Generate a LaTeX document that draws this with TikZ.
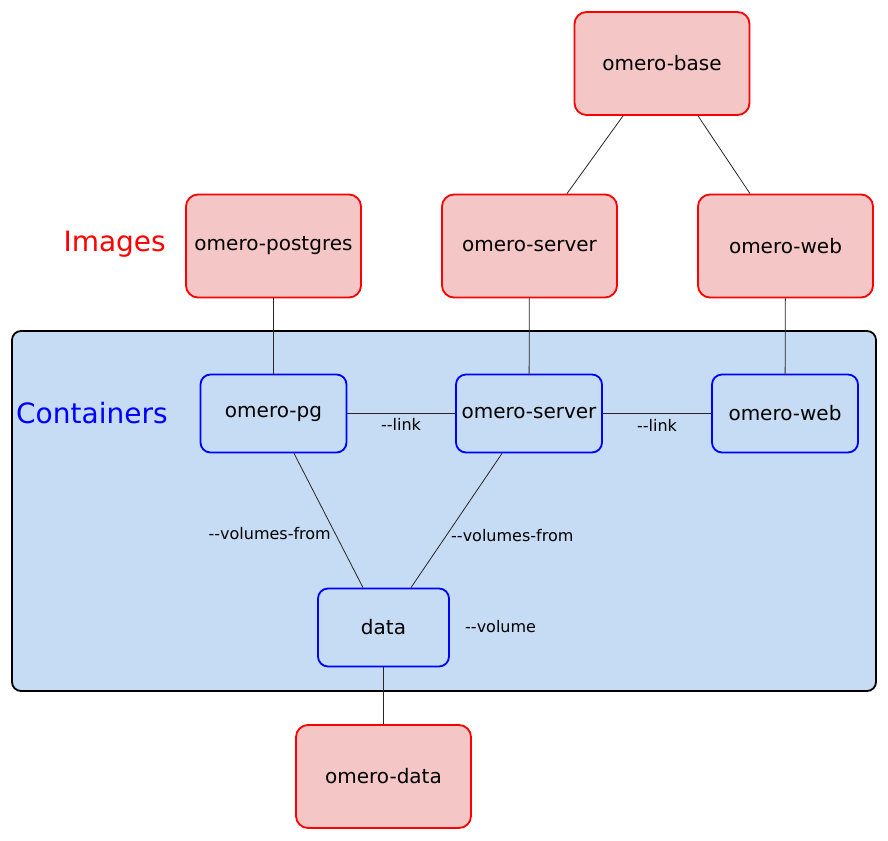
\documentclass[tikz,border=0pt]{standalone}
\usepackage{fontspec}
\setmainfont{DejaVu Sans}
\definecolor{imgfill}{RGB}{244,198,198}
\definecolor{ctrfill}{RGB}{198,220,244}
\newcommand{\opt}[1]{\mbox{-}\mbox{-}#1}
\tikzset{
	imagebox/.style={draw=red, fill=imgfill, line width=1.8pt, rounded corners=12pt,
		minimum width=175pt, minimum height=103pt, font=\fontsize{20}{23}\selectfont},
	ctrbox/.style={draw=blue, fill=ctrfill, line width=1.8pt, rounded corners=10pt,
		minimum width=146pt, minimum height=78pt, font=\fontsize{20}{23}\selectfont},
	groupbox/.style={draw=black, fill=ctrfill, line width=1.8pt, rounded corners=9pt,
		minimum width=864pt, minimum height=360pt},
	optlabel/.style={font=\fontsize{16}{19}\selectfont, inner sep=0pt},
	wire/.style={draw=black!85, line width=0.8pt}}

\begin{document}
\begin{tikzpicture}[x=1pt,y=1pt,yscale=-1,xscale=1]
	\useasboundingbox (0,0) rectangle (888,840);

	% Containers group
	\node[groupbox] (group) at (444,511) {};

	% Images
	\node[imagebox] (base) at (662,63.5) {omero-base};
	\node[imagebox] (pgimg) at (273.5,246) {omero-postgres};
	\node[imagebox] (srvimg) at (529.5,246) {omero-server};
	\node[imagebox] (webimg) at (785.5,246) {omero-web};
	\node[imagebox] (dataimg) at (383.5,776.5) {omero-data};

	% Containers
	\node[ctrbox] (pg) at (273.5,413.5) {omero-pg};
	\node[ctrbox] (srv) at (529,413.5) {omero-server};
	\node[ctrbox] (web) at (785,413.5) {omero-web};
	\node[ctrbox, minimum width=131pt] (data) at (383.5,627.5) {data};

	% Group titles
	\node[anchor=east, text=red, font=\fontsize{28}{31}\selectfont, inner sep=0pt] (imgtitle) at (166,244) {Images};
	\node[anchor=west, text=blue, font=\fontsize{28}{31}\selectfont, inner sep=0pt] (ctrtitle) at (16,413) {Containers};

	% Image hierarchy
	\draw[wire] ([xshift=-39pt]base.south) -- ([xshift=37.5pt]srvimg.north);
	\draw[wire] ([xshift=36pt]base.south) -- ([xshift=-35.5pt]webimg.north);

	% Image to container
	\draw[wire] (pgimg) -- (pg);
	\draw[wire] (srvimg) -- (srv);
	\draw[wire] (webimg) -- (web);
	\draw[wire] (data) -- (dataimg);

	% Links
	\draw[wire] (pg) -- (srv);
	\draw[wire] (srv) -- (web);
	\draw[wire] ([xshift=20.5pt]pg.south) -- ([xshift=-20.5pt]data.north);
	\draw[wire] ([xshift=-27pt]srv.south) -- ([xshift=27.5pt]data.north);

	% Text Node
	\node[optlabel] (link1) at (401,424) {\opt{link}};
	\node[optlabel] (link2) at (657,425) {\opt{link}};
	\node[optlabel, anchor=east] (vf1) at (331,534) {\opt{volumes-from}};
	\node[optlabel, anchor=west] (vf2) at (451,536) {\opt{volumes-from}};
	\node[optlabel, anchor=west] (vol) at (465,627) {\opt{volume}};
\end{tikzpicture}
\end{document}
